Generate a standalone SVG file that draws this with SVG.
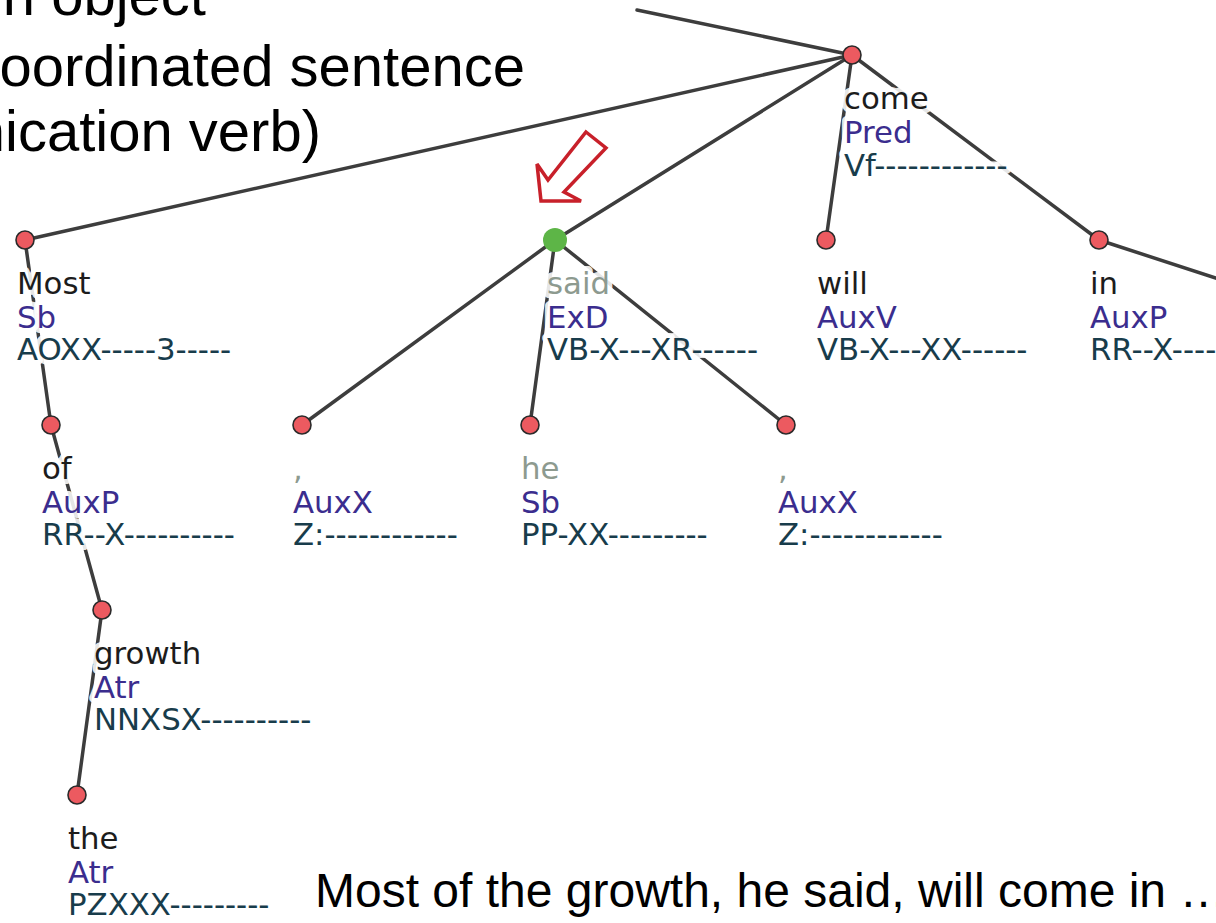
<svg xmlns="http://www.w3.org/2000/svg" width="1216" height="923" viewBox="0 0 1216 923">
<style>
.edge{stroke:#3d3d3d;stroke-width:3.5;fill:none;stroke-linecap:round}
.nd{fill:#ec5a60;stroke:#2a2a2a;stroke-width:1.6}
.sel{fill:#5db547}
.lb{font-family:"DejaVu Sans",Verdana,sans-serif;font-size:30.8px;paint-order:stroke fill;stroke:#fff;stroke-width:10;stroke-linejoin:round;stroke-opacity:0.9}
.w{fill:#1c1c1c}
.wg{fill:#8d9a8f}
.r{fill:#3b2d8e}
.t{fill:#183c4b}
.big{font-family:"Liberation Sans",Arial,sans-serif;fill:#000}
</style>
<rect width="1216" height="923" fill="#fff"/>
<g class="big" font-size="58" text-anchor="end">
<text x="206" y="15">n object</text>
<text x="525" y="86">oordinated sentence</text>
<text x="321" y="151">nication verb)</text>
</g>
<g id="connectors">
<line class="edge" x1="637" y1="10" x2="852" y2="55"/>
<line class="edge" x1="852" y1="55" x2="25" y2="240"/>
<line class="edge" x1="852" y1="55" x2="555" y2="240"/>
<line class="edge" x1="852" y1="55" x2="826" y2="240"/>
<line class="edge" x1="852" y1="55" x2="1099" y2="240"/>
<line class="edge" x1="1099" y1="240" x2="1240" y2="286"/>
<line class="edge" x1="25" y1="240" x2="51" y2="425"/>
<line class="edge" x1="51" y1="425" x2="102" y2="610"/>
<line class="edge" x1="102" y1="610" x2="77" y2="795"/>
<line class="edge" x1="555" y1="240" x2="302" y2="425"/>
<line class="edge" x1="555" y1="240" x2="530" y2="425"/>
<line class="edge" x1="555" y1="240" x2="786" y2="425"/>
</g>
<g id="node-come">
<circle class="nd" cx="852" cy="55" r="9"/>
<text class="lb w" x="844" y="109">come</text>
<text class="lb r" x="844" y="143">Pred</text>
<text class="lb t" x="844" y="176">Vf------------</text>
</g>
<g id="node-most">
<circle class="nd" cx="25" cy="240" r="9"/>
<text class="lb w" x="17" y="294">Most</text>
<text class="lb r" x="17" y="328">Sb</text>
<text class="lb t" x="17" y="360">AOXX-----3-----</text>
</g>
<g id="node-said">
<circle class="sel" cx="555" cy="240" r="12"/>
<text class="lb wg" x="547" y="294">said</text>
<text class="lb r" x="547" y="328">ExD</text>
<text class="lb t" x="547" y="360">VB-X---XR------</text>
</g>
<g id="node-will">
<circle class="nd" cx="826" cy="240" r="9"/>
<text class="lb w" x="817" y="294">will</text>
<text class="lb r" x="817" y="328">AuxV</text>
<text class="lb t" x="817" y="360">VB-X---XX------</text>
</g>
<g id="node-in">
<circle class="nd" cx="1099" cy="240" r="9"/>
<text class="lb w" x="1090" y="294">in</text>
<text class="lb r" x="1090" y="328">AuxP</text>
<text class="lb t" x="1090" y="360">RR--X-----------</text>
</g>
<g id="node-of">
<circle class="nd" cx="51" cy="425" r="9"/>
<text class="lb w" x="42" y="479">of</text>
<text class="lb r" x="42" y="513">AuxP</text>
<text class="lb t" x="42" y="545">RR--X----------</text>
</g>
<g id="node-comma1">
<circle class="nd" cx="302" cy="425" r="9"/>
<text class="lb wg" x="293" y="479">,</text>
<text class="lb r" x="293" y="513">AuxX</text>
<text class="lb t" x="293" y="545">Z:------------</text>
</g>
<g id="node-he">
<circle class="nd" cx="530" cy="425" r="9"/>
<text class="lb wg" x="521" y="479">he</text>
<text class="lb r" x="521" y="513">Sb</text>
<text class="lb t" x="521" y="545">PP-XX---------</text>
</g>
<g id="node-comma2">
<circle class="nd" cx="786" cy="425" r="9"/>
<text class="lb wg" x="778" y="479">,</text>
<text class="lb r" x="778" y="513">AuxX</text>
<text class="lb t" x="778" y="545">Z:------------</text>
</g>
<g id="node-growth">
<circle class="nd" cx="102" cy="610" r="9"/>
<text class="lb w" x="94" y="664">growth</text>
<text class="lb r" x="94" y="698">Atr</text>
<text class="lb t" x="94" y="730">NNXSX----------</text>
</g>
<g id="node-the">
<circle class="nd" cx="77" cy="795" r="9"/>
<text class="lb w" x="68" y="849">the</text>
<text class="lb r" x="68" y="883">Atr</text>
<text class="lb t" x="68" y="915">PZXXX---------</text>
</g>
<g id="arrow">
<polygon points="586,132 606,148 564,192 581,201 541,201 537,164 548,180" fill="#fff" stroke="#c8202a" stroke-width="3.5" stroke-linejoin="miter"/>
</g>
<text class="big" x="315" y="907" font-size="48">Most of the growth, he said, will come in …</text>
</svg>
